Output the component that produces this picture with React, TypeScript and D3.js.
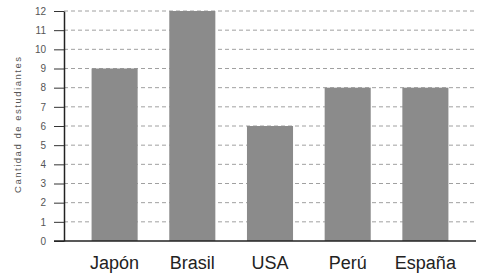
import React, { useRef, useEffect } from 'react';
import * as d3 from 'd3';

const countries = ['Japón', 'Brasil', 'USA', 'Perú', 'España'];
const students = [9, 12, 6, 8, 8];
const yTicks = d3.range(0, 13);

const App = () => {
  const svgRef = useRef<SVGSVGElement>(null);

  useEffect(() => {
    const svg = d3.select(svgRef.current);
    svg.selectAll('*').remove();

    const width = 478;
    const height = 279;
    const left = 64;
    const right = 476;
    const top = 11;
    const bottom = 241;
    const font = 'Liberation Sans, Arial, sans-serif';

    const x = d3.scaleBand<string>()
      .domain(countries)
      .range([left, right])
      .paddingInner(0.407)
      .paddingOuter(0.355);

    const y = d3.scaleLinear().domain([0, 12]).range([bottom, top]);

    svg.attr('width', width).attr('height', height);
    svg.append('rect').attr('width', width).attr('height', height).attr('fill', '#fff');

    // gridlines
    svg.append('g')
      .selectAll('line')
      .data(yTicks.filter(d => d > 0))
      .enter().append('line')
      .attr('x1', left)
      .attr('x2', right)
      .attr('y1', d => y(d))
      .attr('y2', d => y(d))
      .attr('stroke', '#a0a0a0')
      .attr('stroke-width', 1)
      .attr('stroke-dasharray', '4,3');

    // bars
    svg.append('g')
      .selectAll('rect')
      .data(countries)
      .enter().append('rect')
      .attr('x', d => x(d)!)
      .attr('y', (d, i) => y(students[i]))
      .attr('width', x.bandwidth())
      .attr('height', (d, i) => bottom - y(students[i]))
      .attr('fill', '#8b8b8b');

    // y axis
    const yAxis = svg.append('g')
      .attr('transform', `translate(${left},0)`)
      .call(d3.axisLeft(y).tickValues(yTicks).tickSize(10).tickSizeOuter(0).tickPadding(8));
    yAxis.select('.domain').attr('stroke', '#222').attr('stroke-width', 1.5);
    yAxis.selectAll('.tick line').attr('stroke', '#333');
    yAxis.selectAll('.tick text')
      .attr('font-family', font)
      .attr('font-size', 10)
      .attr('fill', '#555');

    // baseline
    svg.append('line')
      .attr('x1', left - 10)
      .attr('x2', right)
      .attr('y1', bottom)
      .attr('y2', bottom)
      .attr('stroke', '#222')
      .attr('stroke-width', 1.5);

    // x labels
    svg.append('g')
      .selectAll('text')
      .data(countries)
      .enter().append('text')
      .attr('x', d => x(d)! + x.bandwidth() / 2)
      .attr('y', 269)
      .attr('text-anchor', 'middle')
      .attr('font-family', font)
      .attr('font-size', 18)
      .attr('fill', '#222')
      .text(d => d);

    // y title
    svg.append('text')
      .attr('transform', `translate(21,125) rotate(-90)`)
      .attr('text-anchor', 'middle')
      .attr('font-family', font)
      .attr('font-size', 9.5)
      .attr('fill', '#555')
      .attr('textLength', 136)
      .attr('lengthAdjust', 'spacing')
      .text('Cantidad de estudiantes');
  }, []);

  return <svg ref={svgRef} style={{ position: 'absolute', left: 0, top: 0 }}></svg>;
};

export default App;
